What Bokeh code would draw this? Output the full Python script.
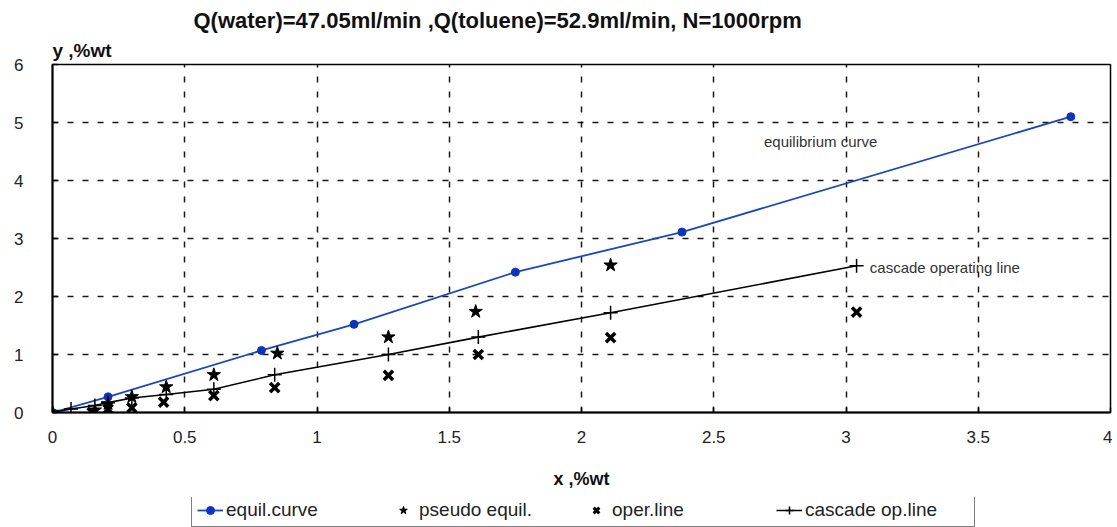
from bokeh.plotting import figure
from bokeh.layouts import column
from bokeh.models import (Legend, LegendItem, Title, Label, FixedTicker,
                          CustomJSTickFormatter)
from bokeh.embed import file_html
from bokeh.resources import INLINE

# ---- data ----
equil_x = [0, 0.21, 0.79, 1.14, 1.75, 2.38, 3.85]
equil_y = [0, 0.27, 1.07, 1.52, 2.42, 3.11, 5.10]

pseudo_x = [0, 0.16, 0.21, 0.30, 0.43, 0.61, 0.85, 1.27, 1.60, 2.11]
pseudo_y = [0, 0.04, 0.15, 0.27, 0.44, 0.65, 1.02, 1.30, 1.74, 2.54]

oper_x = [0.15, 0.21, 0.30, 0.42, 0.61, 0.84, 1.27, 1.61, 2.11, 3.04]
oper_y = [0.00, 0.06, 0.08, 0.18, 0.29, 0.43, 0.64, 1.00, 1.29, 1.73]

casc_x = [0, 0.07, 0.16, 0.21, 0.30, 0.43, 0.61, 0.84, 1.27, 1.61, 2.11, 3.04]
casc_y = [0, 0.06, 0.12, 0.17, 0.25, 0.31, 0.40, 0.65, 1.00, 1.30, 1.72, 2.53]

x_ticks = [0, 0.5, 1, 1.5, 2, 2.5, 3, 3.5, 4]
y_ticks = [0, 1, 2, 3, 4, 5, 6]

legend_labels = ["equil.curve", "pseudo equil.", "oper.line", "cascade op.line"]
title_text = "Q(water)=47.05ml/min ,Q(toluene)=52.9ml/min, N=1000rpm"
FONT = "Liberation Sans"

BLUE_LINE = "#1646d0"
BLUE_DOT = "#0a33c8"

p = figure(frame_width=1058, frame_height=348, x_range=(0, 4), y_range=(0, 6),
           output_backend="svg", toolbar_location=None, title=None,
           min_border_left=52, min_border_right=2, min_border_top=64,
           min_border_bottom=85)

p.outline_line_color = "black"
p.outline_line_width = 1.5
p.outline_line_alpha = 1

for ax, ticks in ((p.xaxis[0], x_ticks), (p.yaxis[0], y_ticks)):
    ax.ticker = FixedTicker(ticks=ticks)
    ax.formatter = CustomJSTickFormatter(code="return tick.toString();")
    ax.axis_line_color = "black"
    ax.axis_line_width = 2
    ax.major_tick_in = 5
    ax.major_tick_out = 0
    ax.major_tick_line_color = "black"
    ax.major_tick_line_width = 1.5
    ax.minor_tick_line_color = None
    ax.major_label_text_font = FONT
    ax.major_label_text_font_size = "17px"
    ax.major_label_text_color = "#222222"

p.yaxis[0].major_label_standoff = 29
p.xaxis[0].major_label_standoff = 18
p.xaxis[0].axis_label = "x ,%wt"
p.xaxis[0].axis_label_text_font = FONT
p.xaxis[0].axis_label_text_font_size = "18px"
p.xaxis[0].axis_label_text_font_style = "bold"
p.xaxis[0].axis_label_text_color = "#111111"
p.xaxis[0].axis_label_standoff = 23

p.xgrid.ticker = FixedTicker(ticks=x_ticks[1:-1])
p.ygrid.ticker = FixedTicker(ticks=y_ticks[1:-1])
for g in (p.xgrid[0], p.ygrid[0]):
    g.grid_line_color = "black"
    g.grid_line_width = 1.5
    g.grid_line_dash = "6 9"
    g.grid_line_alpha = 0.9

p.line(equil_x, equil_y, line_color=BLUE_LINE, line_width=1.8)
p.scatter(equil_x, equil_y, marker="circle", size=8,
          fill_color=BLUE_DOT, line_color=BLUE_DOT)
p.line(casc_x, casc_y, line_color="black", line_width=1.6)
p.scatter(casc_x, casc_y, marker="cross", size=14,
          line_color="black", line_width=1.5)
p.scatter(pseudo_x, pseudo_y, marker="star", size=14,
          fill_color="black", line_color="black")
p.scatter(oper_x, oper_y, marker="x", size=13,
          line_color="black", line_width=3.5)

p.add_layout(Label(x=2.69, y=4.67, text="equilibrium curve",
                   text_font=FONT, text_font_size="15px",
                   text_color="#333333", text_baseline="middle"))
p.add_layout(Label(x=3.09, y=2.50, text="cascade operating line",
                   text_font=FONT, text_font_size="15px",
                   text_color="#333333", text_baseline="middle"))

# titles: first added sits closest to the frame
p.add_layout(Title(text="y ,%wt", align="left", text_font=FONT,
                   text_font_size="19px", text_font_style="bold",
                   text_color="#111111", standoff=8), "above")
p.add_layout(Title(text=title_text, align="left", offset=141, text_font=FONT,
                   text_font_size="22px", text_font_style="bold",
                   text_color="#111111", standoff=1), "above")

# ---- legend strip (separate figure placed directly below) ----
# same series drawn again, but the ranges keep them out of view: only the
# legend of this strip is visible
q = figure(width=1112, height=30, x_range=(-20, -19), y_range=(-20, -19),
           output_backend="svg", toolbar_location=None, title=None,
           x_axis_type=None, y_axis_type=None,
           min_border_left=0, min_border_right=0, min_border_top=0,
           min_border_bottom=0)
q.outline_line_color = None
q.grid.visible = False

g_eq_l = q.line(equil_x, equil_y, line_color=BLUE_LINE, line_width=1.8)
g_eq_p = q.scatter(equil_x, equil_y, marker="circle", size=8,
                   fill_color=BLUE_DOT, line_color=BLUE_DOT)
g_ps = q.scatter(pseudo_x, pseudo_y, marker="star", size=12,
                 fill_color="black", line_color="black")
g_op = q.scatter(oper_x, oper_y, marker="x", size=12,
                 line_color="black", line_width=3)
g_ca_l = q.line(casc_x, casc_y, line_color="black", line_width=1.5)
g_ca_p = q.scatter(casc_x, casc_y, marker="cross", size=16,
                   line_color="black", line_width=1.5)

legend = Legend(items=[
    LegendItem(label=legend_labels[0], renderers=[g_eq_l, g_eq_p]),
    LegendItem(label=legend_labels[1], renderers=[g_ps]),
    LegendItem(label=legend_labels[2], renderers=[g_op]),
    LegendItem(label=legend_labels[3], renderers=[g_ca_l, g_ca_p]),
], orientation="horizontal", location=(139, 0))
legend.label_text_font = FONT
legend.label_text_font_size = "19px"
legend.label_text_color = "#222222"
legend.label_width = 164
legend.label_standoff = 3
legend.glyph_width = 26
legend.glyph_height = 20
legend.label_height = 20
legend.spacing = 0
legend.padding = 5
legend.margin = 0
legend.border_line_color = "black"
legend.border_line_width = 1.5
legend.background_fill_color = "white"
legend.background_fill_alpha = 1
q.add_layout(legend)

layout = column(p, q, spacing=0)
open("out.html", "w").write(file_html(layout, INLINE))
